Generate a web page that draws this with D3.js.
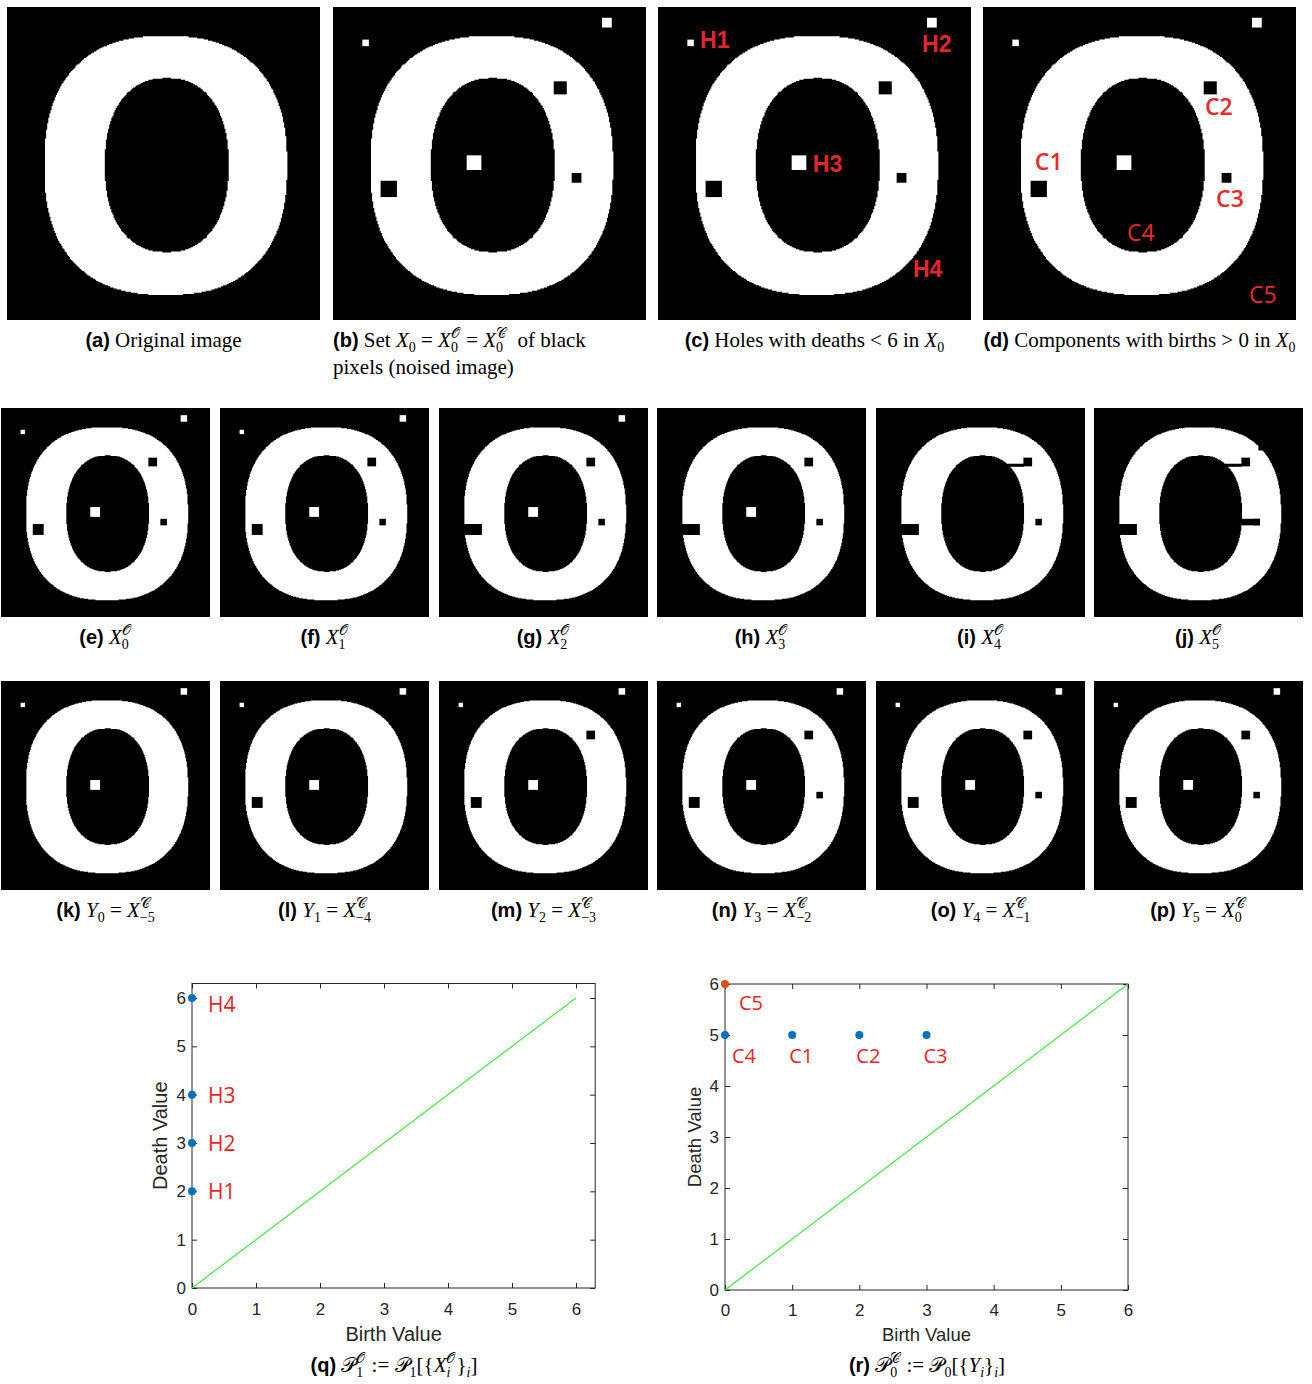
<!DOCTYPE html>
<html>
<head>
<meta charset="utf-8">
<script src="https://cdn.jsdelivr.net/npm/d3@7"></script>
<style>
  body { margin: 0; background: #fff; }
  text.cap { font-family: "Liberation Serif", "Times New Roman", serif; font-size: 21px; fill: #000; white-space: pre; }
  tspan.b { font-family: "Liberation Sans", Arial, sans-serif; font-weight: bold; font-size: 20px; }
  tspan.i { font-style: italic; }
  tspan.sm { font-size: 14px; }
  tspan.smi { font-size: 14px; font-style: italic; }
</style>
</head>
<body>
<div id="chart"></div>
<script>
// ---- image data (96 x 96 pixel binary image of the letter O) ----
var gridN = 96;
var fine = 3; // sub-pixel steps used for the glyph outline
// superellipse params: cx, cy, rx, ry, exponent
var glyphOuter = [48.7, 48.6, 37.2, 39.7, 2.45];
var glyphInner = [49.0, 48.5, 19.0, 26.7, 2.3];

// noise squares added to the image: name, column, row, side (in pixels)
var noiseNames = ["H1", "H2", "H3", "C1", "C2", "C3"];
var noiseCol   = [9, 82.5, 41, 14.6, 67.7, 73.2];
var noiseRow   = [10, 3.3, 45.5, 53.3, 22.8, 50.9];
var noiseSide  = [2, 3, 4.5, 5, 4, 3];

// black pixels that get merged during the filtration
var barNames = ["C1", "C2", "C3", "T"];
var barCol0  = [10, 60, 66, 75.5];
var barCol1  = [19.6, 68, 76.2, 79];
var barRow0  = [53.3, 25.6, 50.9, 16.5];
var barRow1  = [58.3, 27, 53.9, 19.5];

// filtration frames
var frameIdsX = ["e", "f", "g", "h", "i", "j"];
var frameNoiseX = [
  ["H1","H2","H3","C1","C2","C3"],
  ["H1","H2","H3","C1","C2","C3"],
  ["H2","H3","C1","C2","C3"],
  ["H3","C1","C2","C3"],
  ["C1","C2","C3"],
  ["C1","C2","C3"]
];
var frameBarsX = [[], [], ["C1"], ["C1"], ["C1","C2"], ["C1","C2","C3","T"]];

var frameIdsY = ["k", "l", "m", "n", "o", "p"];
var frameNoiseY = [
  ["H1","H2","H3"],
  ["H1","H2","H3","C1"],
  ["H1","H2","H3","C1","C2"],
  ["H1","H2","H3","C1","C2","C3"],
  ["H1","H2","H3","C1","C2","C3"],
  ["H1","H2","H3","C1","C2","C3"]
];
var idxY = ["0","1","2","3","4","5"];
var idxC = ["\u22125","\u22124","\u22123","\u22122","\u22121","0"];

// persistence diagrams
var holeNames = ["H1", "H2", "H3", "H4"];
var holeBirth = [0, 0, 0, 0];
var holeDeath = [2, 3, 4, 6];
var compNames = ["C4", "C1", "C2", "C3", "C5"];
var compBirth = [0, 1, 2, 3, 0];
var compDeath = [5, 5, 5, 5, 6];
var diagTicks = [0, 1, 2, 3, 4, 5, 6];

var SO = "\uD835\uDCAA", SC = "\uD835\uDC9E", SP = "\uD835\uDCAB";

var W = 1312, H = 1384;
var svg = d3.select("#chart").append("svg").attr("width", W).attr("height", H);

function superRows(par) {
  var cx = par[0], cy = par[1], rx = par[2], ry = par[3], p = par[4];
  var rows = [];
  for (var r = 0; r < gridN * fine; r++) {
    var t = Math.abs((r + 0.5) / fine - cy) / ry;
    if (t >= 1) continue;
    var w = rx * Math.pow(1 - Math.pow(t, p), 1 / p);
    var c0 = Math.round((cx - w) * fine) / fine, c1 = Math.round((cx + w) * fine) / fine;
    if (c1 > c0) rows.push([r / fine, c0, c1]);
  }
  return rows;
}
var outerRows = superRows(glyphOuter);
var innerRows = superRows(glyphInner);

function rowsPath(rows, s) {
  return rows.map(function(d) {
    return "M" + s(d[1]) + "," + s(d[0]) + "H" + s(d[2]) + "V" + s(d[0] + 1 / fine) + "H" + s(d[1]) + "Z";
  }).join("");
}

var noise = noiseNames.map(function(n, i) {
  return {name: n, col: noiseCol[i], row: noiseRow[i], side: noiseSide[i]};
});
var bars = barNames.map(function(n, i) {
  return {name: n, c0: barCol0[i], c1: barCol1[i], r0: barRow0[i], r1: barRow1[i]};
});

function drawImage(x, y, size, noiseList, barList) {
  var g = svg.append("g").attr("transform", "translate(" + x + "," + y + ")");
  var s = d3.scaleLinear().domain([0, gridN]).range([0, size]);
  g.append("rect").attr("width", size).attr("height", size).attr("fill", "#000");
  g.append("path").attr("d", rowsPath(outerRows, s)).attr("fill", "#fff");
  g.append("path").attr("d", rowsPath(innerRows, s)).attr("fill", "#000");
  g.selectAll("rect.noise")
    .data(noise.filter(function(d) { return noiseList.indexOf(d.name) >= 0; }))
    .join("rect")
    .attr("class", "noise")
    .attr("x", function(d) { return s(d.col); })
    .attr("y", function(d) { return s(d.row); })
    .attr("width", function(d) { return s(d.side); })
    .attr("height", function(d) { return s(d.side); })
    .attr("fill", function(d) { return d.name[0] === "H" ? "#fff" : "#000"; });
  g.selectAll("rect.bar")
    .data(bars.filter(function(d) { return barList.indexOf(d.name) >= 0; }))
    .join("rect")
    .attr("class", "bar")
    .attr("x", function(d) { return s(d.c0); })
    .attr("y", function(d) { return s(d.r0); })
    .attr("width", function(d) { return s(d.c1) - s(d.c0); })
    .attr("height", function(d) { return s(d.r1) - s(d.r0); })
    .attr("fill", "#000");
  return {g: g, s: s};
}

// rich caption text with sub/superscripts
function rich(cx, y, toks, leftAlign) {
  var text = svg.append("text").attr("class", "cap").attr("x", 0).attr("y", y);
  var off = 0, pend = 0;
  function put(str, cls, to, dx) {
    var ts = text.append("tspan").attr("class", cls).text(str);
    if (to - off) ts.attr("dy", to - off);
    off = to;
    if (dx) ts.attr("dx", dx);
    return ts;
  }
  toks.forEach(function(t) {
    var k = t[0];
    if (k === "ss") {
      var a = put(t[1], "sm", -9, pend);
      var w1 = a.node().getComputedTextLength();
      var b = put(t[2], t[3] ? "smi" : "sm", 5, -w1);
      var w2 = b.node().getComputedTextLength();
      pend = Math.max(0, w1 - w2) + 1;
    } else if (k === "sub" || k === "subi") {
      put(t[1], k === "sub" ? "sm" : "smi", 5, pend); pend = 0;
    } else {
      put(t[1], k, 0, pend); pend = 0;
    }
  });
  var bb = text.node().getBBox();
  text.attr("x", leftAlign ? cx : cx - bb.width / 2 - bb.x);
}

// ---- top row ----
var topX = [7, 333, 658, 983], topY = 7, topS = 313;
drawImage(topX[0], topY, topS, [], []);
drawImage(topX[1], topY, topS, noiseNames, []);
var imgC = drawImage(topX[2], topY, topS, noiseNames, []);
var imgD = drawImage(topX[3], topY, topS, noiseNames, []);

var hLab = [["H1", 12.9, 12.6], ["H2", 81, 13.8], ["H3", 47.5, 50.6], ["H4", 78.2, 82.8]];
imgC.g.selectAll("text.lab").data(hLab).join("text")
  .attr("x", function(d) { return imgC.s(d[1]); })
  .attr("y", function(d) { return imgC.s(d[2]); })
  .attr("font-family", "'Liberation Sans', Arial, sans-serif")
  .attr("font-weight", "bold").attr("font-size", 23)
  .attr("fill", "#e3262c").text(function(d) { return d[0]; });

var cLab = [["C1", 15.9, 50, 600], ["C2", 68.1, 33.1, 600], ["C3", 71.5, 61.3, 600], ["C4", 44.2, 71.8, 400], ["C5", 81.6, 90.8, 400]];
imgD.g.selectAll("text.lab").data(cLab).join("text")
  .attr("x", function(d) { return imgD.s(d[1]); })
  .attr("y", function(d) { return imgD.s(d[2]); })
  .attr("font-family", "'Open Sans', 'Noto Sans', sans-serif")
  .attr("font-weight", function(d) { return d[3]; }).attr("font-size", 23)
  .attr("fill", "#ea2a2a").text(function(d) { return d[0]; });

rich(topX[0] + topS / 2, 347, [["b", "(a)"], ["r", " Original image"]]);
rich(333, 347, [["b", "(b)"], ["r", " Set "], ["i", "X"], ["sub", "0"], ["r", " = "], ["i", "X"], ["ss", SO, "0"],
  ["r", " = "], ["i", "X"], ["ss", SC, "0"], ["r", "  of black"]], true);
rich(333, 374, [["r", "pixels (noised image)"]], true);
rich(topX[2] + topS / 2, 347, [["b", "(c)"], ["r", " Holes with deaths < 6 in "], ["i", "X"], ["sub", "0"]]);
rich(topX[3] + topS / 2, 347, [["b", "(d)"], ["r", " Components with births > 0 in "], ["i", "X"], ["sub", "0"]]);

// ---- filtration rows ----
var rowX = [1, 220, 439, 657, 876, 1094], smallS = 209;
frameIdsX.forEach(function(id, i) {
  drawImage(rowX[i], 408, smallS, frameNoiseX[i], frameBarsX[i]);
  rich(rowX[i] + smallS / 2, 644, [["b", "(" + id + ")"], ["r", " "], ["i", "X"], ["ss", SO, String(i)]]);
});
frameIdsY.forEach(function(id, i) {
  drawImage(rowX[i], 681, smallS, frameNoiseY[i], []);
  rich(rowX[i] + smallS / 2, 917, [["b", "(" + id + ")"], ["r", " "], ["i", "Y"], ["sub", idxY[i]], ["r", " = "],
    ["i", "X"], ["ss", SC, idxC[i]]]);
});

// ---- persistence diagrams ----
function diagram(cfg) {
  var x = d3.scaleLinear().domain([0, cfg.xmax]).range([cfg.left, cfg.right]);
  var y = d3.scaleLinear().domain([0, cfg.ymax]).range([cfg.bottom, cfg.top]);
  var g = svg.append("g");
  function style(sel) {
    sel.select(".domain").remove();
    sel.attr("font-size", cfg.tickFs).attr("font-family", "'Liberation Sans', Arial, sans-serif").attr("color", "#262626");
  }
  g.append("g").attr("transform", "translate(0," + y(0) + ")")
    .call(d3.axisBottom(x).tickValues(diagTicks).tickSizeInner(-5).tickSizeOuter(0).tickPadding(cfg.padX).tickFormat(d3.format("d")))
    .call(style);
  g.append("g").attr("transform", "translate(" + x(0) + ",0)")
    .call(d3.axisLeft(y).tickValues(diagTicks).tickSizeInner(-5).tickSizeOuter(0).tickPadding(6).tickFormat(d3.format("d")))
    .call(style);
  g.append("g").attr("transform", "translate(0," + y(cfg.ymax) + ")")
    .call(d3.axisTop(x).tickValues(diagTicks).tickSizeInner(-5).tickSizeOuter(0).tickFormat(""))
    .call(style);
  g.append("g").attr("transform", "translate(" + x(cfg.xmax) + ",0)")
    .call(d3.axisRight(y).tickValues(diagTicks).tickSizeInner(-5).tickSizeOuter(0).tickFormat(""))
    .call(style);
  g.append("rect")
    .attr("x", x(0)).attr("y", y(cfg.ymax))
    .attr("width", x(cfg.xmax) - x(0)).attr("height", y(0) - y(cfg.ymax))
    .attr("fill", "none").attr("stroke", "#262626").attr("stroke-width", 1);
  g.append("line")
    .attr("x1", x(0)).attr("y1", y(0)).attr("x2", x(6)).attr("y2", y(6))
    .attr("stroke", "#3fe63f").attr("stroke-width", 1.2);
  var pts = cfg.names.map(function(n, i) { return {name: n, b: cfg.births[i], d: cfg.deaths[i]}; });
  g.selectAll("circle").data(pts).join("circle")
    .attr("cx", function(d) { return x(d.b); })
    .attr("cy", function(d) { return y(d.d); })
    .attr("r", 4)
    .attr("fill", function(d) { return d.name === "C5" ? "#D95319" : "#0072BD"; });
  g.selectAll("text.lab").data(pts).join("text")
    .attr("class", "lab")
    .attr("x", function(d) { return x(d.b) + (cfg.off[d.name] || cfg.off.def)[0]; })
    .attr("y", function(d) { return y(d.d) + (cfg.off[d.name] || cfg.off.def)[1]; })
    .attr("font-family", "'Open Sans', 'Noto Sans', sans-serif")
    .attr("font-size", cfg.labFs).attr("fill", "#f01e22")
    .text(function(d) { return d.name; });
  g.append("text")
    .attr("x", (x(0) + x(cfg.xmax)) / 2).attr("y", 1341)
    .attr("text-anchor", "middle").attr("font-size", cfg.titleFs)
    .attr("font-family", "'Liberation Sans', Arial, sans-serif").attr("fill", "#262626")
    .text("Birth Value");
  g.append("text")
    .attr("transform", "translate(" + cfg.ytitleX + "," + (y(0) + y(cfg.ymax)) / 2 + ") rotate(-90)")
    .attr("text-anchor", "middle").attr("font-size", cfg.titleFs)
    .attr("font-family", "'Liberation Sans', Arial, sans-serif").attr("fill", "#262626")
    .text("Death Value");
}

diagram({
  xmax: 6.3, ymax: 6.3, left: 192, right: 595.2, bottom: 1288, top: 983.5,
  names: holeNames, births: holeBirth, deaths: holeDeath,
  tickFs: 17, titleFs: 20, labFs: 21, padX: 15, ytitleX: 167,
  off: {def: [16, 8], H4: [16, 14]}
});
diagram({
  xmax: 6, ymax: 6, left: 725, right: 1128, bottom: 1290, top: 984,
  names: compNames, births: compBirth, deaths: compDeath,
  tickFs: 17, titleFs: 18.5, labFs: 20, padX: 14, ytitleX: 701,
  off: {def: [-3, 28], C4: [7, 28], C5: [14, 26]}
});

rich(394, 1372, [["b", "(q)"], ["r", " "], ["r", SP], ["ss", SO, "1"], ["r", " := "], ["r", SP], ["sub", "1"],
  ["r", "[{"], ["i", "X"], ["ss", SO, "i", true], ["r", "}"], ["subi", "i"], ["r", "]"]]);
rich(927, 1372, [["b", "(r)"], ["r", " "], ["r", SP], ["ss", SC, "0"], ["r", " := "], ["r", SP], ["sub", "0"],
  ["r", "[{"], ["i", "Y"], ["subi", "i"], ["r", "}"], ["subi", "i"], ["r", "]"]]);
</script>
</body>
</html>
